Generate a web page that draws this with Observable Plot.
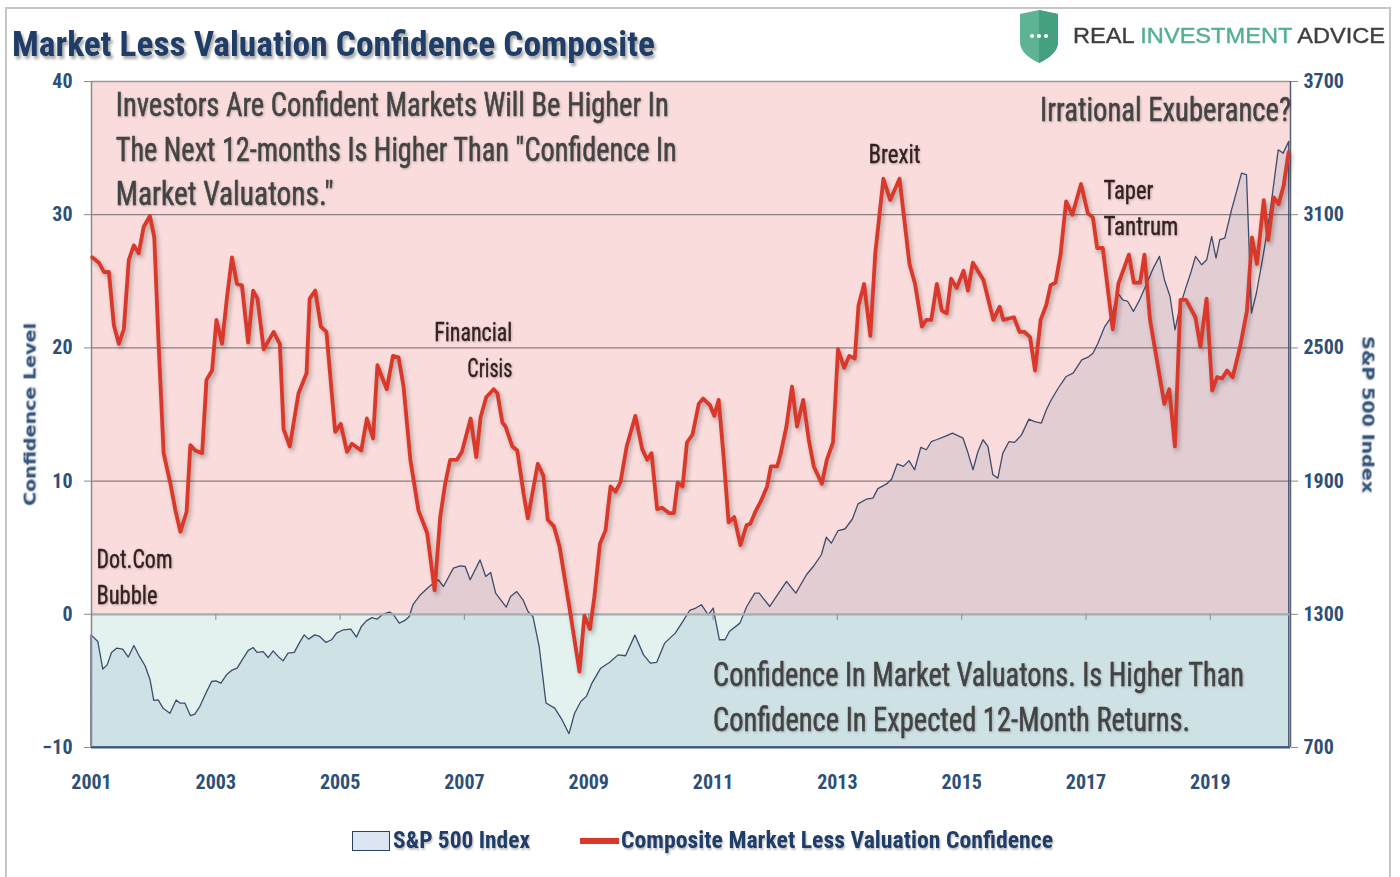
<!DOCTYPE html>
<html>
<head>
<meta charset="utf-8">
<script src="https://cdn.jsdelivr.net/npm/d3@7"></script>
<script src="https://cdn.jsdelivr.net/npm/@observablehq/plot@0.6"></script>
<style>
  html, body { margin: 0; padding: 0; background: #fff; }
  #wrap { position: relative; width: 1400px; height: 877px; overflow: hidden; background: #fff;
    font-family: "Liberation Sans Narrow", "Arial Narrow", "Roboto Condensed", "DejaVu Sans Condensed", sans-serif; }
  #frame { position: absolute; left: 5px; top: 7px; width: 1386px; height: 900px; border: 2px solid #c6c6c6; box-sizing: border-box; pointer-events: none; }
  .fit { position: absolute; white-space: nowrap; transform-origin: left center; }
  #title { left: 12px; top: 27px; font-size: 35px; line-height: 35px; font-weight: bold; color: #1f3d66;
    text-shadow: 2px 3px 3px rgba(0,0,0,0.35); }
  #logoText { left: 1073px; top: 25px; font-family: "Liberation Sans", Arial, sans-serif; font-size: 22px; line-height: 22px;
    color: #3f3f3f; -webkit-text-stroke: 0.4px #3f3f3f; }
  #logoText .g { color: #52b08f; -webkit-text-stroke: 0.4px #52b08f; }
  #chart { position: absolute; left: 0; top: 62px; }
  .leg { font-size: 23px; line-height: 23px; font-weight: bold; color: #1f3d66; top: 829px;
    text-shadow: 1px 2px 2px rgba(0,0,0,0.25); }
  #sw1 { position: absolute; left: 352px; top: 831px; width: 38px; height: 20px; background: #dce6f2; border: 1.5px solid #2f3f5f; box-sizing: border-box; }
  #sw2 { position: absolute; left: 580px; top: 838px; width: 39px; height: 6px; background: #d9382a; }
</style>
</head>
<body>
<div id="wrap">
  <div id="frame"></div>
  <div id="title" class="fit">Market Less Valuation Confidence Composite</div>
  <svg id="shield" width="40" height="54" viewBox="0 0 40 54" style="position:absolute;left:1019px;top:9px">
    <path d="M1 5 L20 1 L39 5 L39 33 Q39 45 20 54 Q1 45 1 33 Z" fill="#5cb494"/>
    <path d="M20 1 L39 5 L39 33 Q39 45 20 54 Z" fill="#45a080"/>
    <circle cx="13" cy="27" r="2.1" fill="#fff"/>
    <circle cx="20" cy="27" r="2.1" fill="#fff"/>
    <circle cx="27" cy="27" r="2.1" fill="#fff"/>
  </svg>
  <div id="logoText" class="fit">REAL <span class="g">INVESTMENT</span> ADVICE</div>
  <div id="chart"></div>
  <div id="sw1"></div>
  <div id="leg1" class="fit leg" style="left:393px">S&amp;P 500 Index</div>
  <div id="sw2"></div>
  <div id="leg2" class="fit leg" style="left:621px">Composite Market Less Valuation Confidence</div>
</div>
<script>
// ---------- DATA ----------
// Composite Market Less Valuation Confidence (left axis), decimal year and value
const compYear = [
  2001.01,2001.12,2001.20,2001.28,2001.36,2001.44,2001.52,2001.60,2001.68,2001.76,2001.84,2001.94,
  2002.01,2002.08,2002.16,2002.27,2002.35,2002.43,2002.53,2002.59,2002.67,2002.78,2002.85,2002.94,
  2003.01,2003.10,2003.18,2003.26,2003.34,2003.42,2003.52,2003.60,2003.67,2003.77,2003.93,
  2004.03,2004.09,2004.19,2004.33,2004.46,2004.51,2004.60,2004.69,2004.78,2004.92,
  2005.01,2005.11,2005.19,2005.34,2005.43,2005.53,2005.60,2005.75,2005.85,2005.94,
  2006.02,2006.13,2006.26,2006.40,2006.52,2006.61,2006.69,2006.77,2006.88,2006.96,
  2007.10,2007.19,2007.26,2007.35,2007.47,2007.53,2007.61,2007.66,2007.77,2007.85,2007.95,
  2008.02,2008.18,2008.27,2008.34,2008.44,2008.53,2008.69,2008.85,2008.93,
  2009.02,2009.09,2009.18,2009.27,2009.35,2009.43,2009.51,2009.61,2009.75,2009.86,2009.94,
  2010.01,2010.10,2010.18,2010.29,2010.37,2010.43,2010.51,2010.58,2010.67,2010.77,2010.84,2010.95,
  2011.02,2011.09,2011.17,2011.25,2011.34,2011.44,2011.54,2011.60,2011.68,2011.76,2011.87,2011.93,
  2012.03,2012.08,2012.18,2012.27,2012.35,2012.45,2012.54,2012.62,2012.75,2012.83,2012.93,
  2013.01,2013.11,2013.19,2013.28,2013.34,2013.43,2013.53,2013.61,2013.74,2013.85,
  2014.00,2014.16,2014.25,2014.36,2014.43,2014.51,2014.60,2014.68,2014.76,2014.83,2014.92,
  2015.03,2015.10,2015.18,2015.35,2015.51,2015.61,2015.67,2015.84,2015.93,
  2016.01,2016.10,2016.18,2016.27,2016.36,2016.43,2016.51,2016.59,2016.68,2016.78,2016.92,
  2017.03,2017.11,2017.18,2017.27,2017.43,2017.52,2017.69,2017.77,2017.87,2017.94,
  2018.03,2018.14,2018.26,2018.34,2018.43,2018.52,2018.61,2018.76,2018.84,2018.94,
  2019.03,2019.11,2019.19,2019.27,2019.36,2019.48,2019.59,2019.67,2019.75,2019.86,2019.93,
  2020.02,2020.10,2020.18,2020.26
];
const compValue = [
  26.8,26.4,25.7,25.7,21.7,20.3,21.4,26.6,27.7,27.1,29.1,29.9,
  28.3,20.3,12.1,9.8,7.8,6.2,7.7,12.7,12.3,12.1,17.6,18.3,
  22.1,20.3,23.8,26.8,24.8,24.7,20.4,24.3,23.7,19.9,21.2,
  20.3,13.9,12.6,16.6,18.1,23.7,24.3,21.6,21.2,13.7,
  14.3,12.2,12.8,12.3,14.7,13.2,18.7,16.9,19.4,19.3,
  17.1,11.6,7.8,6.1,1.8,7.3,9.8,11.6,11.6,12.2,
  14.7,11.8,14.8,16.3,16.9,16.6,14.4,14.1,12.6,12.3,9.1,
  7.2,11.3,10.4,7.1,6.6,5.1,0.5,-4.3,-0.1,
  -1.1,1.3,5.3,6.3,9.6,9.2,9.9,12.6,14.9,12.4,11.6,
  12.1,7.9,8.0,7.6,7.6,9.9,9.6,12.9,13.5,15.8,16.2,15.7,
  14.9,16.1,11.8,6.9,7.3,5.2,6.7,6.8,7.7,8.4,9.6,11.1,
  11.1,11.9,14.1,17.1,14.1,16.1,13.1,11.1,9.8,11.6,12.9,
  19.9,18.5,19.4,19.2,23.2,24.8,20.9,27.1,32.7,31.1,
  32.7,26.3,24.8,21.6,22.1,22.1,24.8,22.8,22.6,25.2,24.5,
  25.8,24.3,26.4,25.1,22.1,23.1,22.1,22.3,21.2,
  21.2,20.8,18.3,22.1,23.2,24.7,24.9,27.0,31.0,30.0,32.3,
  30.1,29.8,27.5,27.5,21.4,24.8,27.0,24.9,24.9,27.0,
  22.1,19.1,15.8,16.9,12.6,23.6,23.6,22.3,20.1,23.7,
  16.8,17.8,17.7,18.3,17.8,20.1,22.8,28.3,26.3,31.1,28.1,
  31.3,30.8,32.2,34.7
];
// S&P 500 Index (right axis), decimal year and index level
const spYear = [
  2001.00,2001.11,2001.19,2001.26,2001.33,2001.41,2001.51,2001.60,2001.69,2001.78,2001.87,2001.95,
  2002.01,2002.08,2002.16,2002.27,2002.37,2002.43,2002.51,2002.60,2002.67,2002.75,2002.85,2002.94,
  2003.01,2003.09,2003.18,2003.26,2003.35,2003.44,2003.53,2003.61,2003.67,2003.77,2003.85,2003.93,
  2004.01,2004.09,2004.17,2004.27,2004.35,2004.43,2004.50,2004.60,2004.68,2004.78,2004.87,2004.95,
  2005.06,2005.18,2005.27,2005.35,2005.43,2005.52,2005.60,2005.70,2005.80,2005.86,2005.96,
  2006.05,2006.12,2006.18,2006.30,2006.43,2006.51,2006.59,2006.67,2006.83,2006.94,
  2007.02,2007.10,2007.26,2007.35,2007.43,2007.51,2007.68,2007.75,2007.85,2007.95,
  2008.03,2008.11,2008.21,2008.32,2008.46,2008.58,2008.69,2008.78,2008.88,2008.97,
  2009.06,2009.20,2009.34,2009.48,2009.60,2009.75,2009.89,
  2010.00,2010.10,2010.23,2010.40,2010.52,2010.63,2010.73,2010.82,2010.93,
  2011.01,2011.11,2011.20,2011.27,2011.44,2011.55,2011.68,2011.75,2011.92,
  2012.19,2012.34,2012.51,2012.62,2012.75,2012.83,2012.91,
  2013.02,2013.13,2013.25,2013.34,2013.48,2013.58,2013.66,2013.80,2013.88,2013.97,
  2014.07,2014.16,2014.25,2014.35,2014.44,2014.52,2014.60,2014.74,2014.86,
  2015.03,2015.11,2015.19,2015.27,2015.35,2015.43,2015.51,2015.59,2015.67,2015.77,2015.86,2015.97,
  2016.09,2016.18,2016.29,2016.37,2016.45,2016.56,2016.69,2016.80,2016.94,
  2017.04,2017.12,2017.20,2017.31,2017.42,2017.52,2017.60,2017.68,2017.77,2017.87,
  2018.01,2018.09,2018.19,2018.27,2018.36,2018.44,2018.52,2018.62,2018.70,2018.77,2018.87,2018.95,
  2019.03,2019.10,2019.16,2019.24,2019.35,2019.43,2019.51,2019.59,2019.67,2019.75,2019.86,2019.96,
  2020.10,2020.18,2020.27
];
const spValue = [
  1205,1175,1051,1070,1126,1145,1141,1105,1157,1108,1066,1003,
  910,912,875,852,912,898,898,841,848,882,943,995,
  998,988,1025,1045,1055,1096,1135,1148,1126,1130,1103,1133,
  1108,1088,1123,1126,1168,1205,1186,1205,1198,1171,1183,1213,
  1228,1231,1195,1243,1268,1283,1276,1299,1308,1299,1258,
  1270,1288,1341,1386,1420,1438,1453,1423,1506,1516,
  1513,1453,1543,1468,1486,1393,1330,1378,1400,1363,
  1310,1288,1153,898,875,822,760,852,905,928,
  988,1055,1081,1115,1111,1204,1115,
  1078,1081,1168,1213,1265,1315,1326,1341,1295,
  1326,1183,1183,1220,1258,1333,1393,1393,1333,
  1446,1393,1476,1513,1566,1645,1618,
  1675,1682,1727,1795,1817,1821,1864,1885,1906,1975,
  1964,1990,1949,2050,2039,2076,2084,2099,2114,
  2091,2024,1949,2031,2084,2054,1926,1911,2024,2076,2072,2106,
  2177,2166,2159,2219,2264,2316,2369,2384,2444,
  2456,2474,2519,2594,2639,2745,2714,2707,2662,2714,
  2805,2857,2910,2805,2729,2579,2684,2774,2842,2910,2872,2895,
  3000,2902,2985,2992,3120,3202,3285,3278,2654,2745,2917,3090,
  3390,3375,3428
];
// Axis ticks
const yearTicks = [2001, 2003, 2005, 2007, 2009, 2011, 2013, 2015, 2017, 2019];
const confTicks = [-10, 0, 10, 20, 30, 40];
const spTickLabels = ["700", "1300", "1900", "2500", "3100", "3700"];
// Annotations: text, anchor year, anchor confidence level
const notesLeft = [
  {text: "Investors Are Confident Markets Will Be Higher In", x: 2001.39, y: 38.2},
  {text: "The Next 12-months Is Higher Than \"Confidence In", x: 2001.39, y: 34.8},
  {text: "Market Valuatons.\"", x: 2001.39, y: 31.5},
  {text: "Confidence In Market Valuatons. Is Higher Than", x: 2011.0, y: -4.58},
  {text: "Confidence In Expected 12-Month Returns.", x: 2011.0, y: -7.96}
];
const notesRight = [
  {text: "Irrational Exuberance?", x: 2020.30, y: 37.8}
];
const eventsLeft = [
  {text: "Brexit", x: 2013.50, y: 34.5},
  {text: "Dot.Com", x: 2001.08, y: 4.05},
  {text: "Bubble", x: 2001.08, y: 1.35},
  {text: "Taper", x: 2017.28, y: 31.8},
  {text: "Tantrum", x: 2017.28, y: 29.05}
];
const eventsRight = [
  {text: "Financial", x: 2007.77, y: 21.1},
  {text: "Crisis", x: 2007.77, y: 18.4}
];

// ---------- CHART ----------
const NARROW = '"Liberation Sans Narrow","Arial Narrow","Roboto Condensed","DejaVu Sans Condensed",sans-serif';
const AXIS_COLOR = "#2d4f78";
const xDomain = [2001, 2020.29];
const yDomain = [-10, 40];
// S&P 500 is drawn against the right axis: 700..3700 maps linearly onto -10..40
const spToConf = v => (v - 1300) / 60;

const comp = compYear.map((x, i) => ({x, y: compValue[i]}));
const sp = spYear.map((x, i) => ({x, y: spToConf(spValue[i])}));

const xLo = () => xDomain[0], xHi = () => xDomain[1];
const yLo = () => yDomain[0], yHi = () => yDomain[1], yZero = () => 0;

const bigText = {fontFamily: NARROW, fontSize: 33, fill: "#434343", stroke: "#434343", strokeWidth: 0.5, lineAnchor: "middle"};
const evText = {fontFamily: NARROW, fontSize: 25, fill: "#33201f", stroke: "#33201f", strokeWidth: 0.35, lineAnchor: "middle"};

const chart = Plot.plot({
  width: 1400,
  height: 743,
  marginTop: 19,
  marginBottom: 58,
  marginLeft: 91,
  marginRight: 110,
  x: {domain: xDomain},
  y: {domain: yDomain},
  style: {background: "transparent", fontFamily: NARROW, overflow: "visible"},
  marks: [
    Plot.rect([0], {x1: xLo, x2: xHi, y1: yZero, y2: yHi, fill: "#f9dcdb"}),
    Plot.rect([0], {x1: xLo, x2: xHi, y1: yLo, y2: yZero, fill: "#e3f2ef"}),
    Plot.ruleY([10, 20, 30], {stroke: "#8c7f7f", strokeWidth: 1.2}),
    Plot.ruleY([yDomain[1]], {stroke: "#9a9a9a", strokeWidth: 1.5}),
    Plot.area(sp, {x1: "x", y1: yLo, y2: "y", fill: "#1f4e96", fillOpacity: 0.1,
      stroke: "#3e4d6c", strokeWidth: 1.3, strokeLinejoin: "round"}),
    Plot.ruleY([0], {stroke: "#a3acae", strokeWidth: 2.2}),
    Plot.ruleX([xDomain[0]], {stroke: "#8a8a8a", strokeWidth: 1.5}),
    Plot.ruleX([xDomain[1]], {stroke: "#5a5f74", strokeWidth: 1.5}),
    Plot.ruleY([yDomain[0]], {stroke: "#3a5878", strokeWidth: 2}),
    Plot.ruleX(yearTicks.slice(1), {y1: yZero, y2: yZero, insetBottom: -6, stroke: "#8a9aa0", strokeWidth: 1.2}),
    Plot.line(comp, {x: "x", y: "y", stroke: "#d9382a", strokeWidth: 3.8, strokeLinejoin: "round", strokeLinecap: "round"}),
    Plot.axisY(confTicks, {anchor: "left", label: null, tickSize: 7, tickPadding: 12, stroke: "#8a8a8a",
      fill: AXIS_COLOR, fontSize: 20, fontWeight: "bold", fontFamily: NARROW}),
    Plot.axisY(confTicks, {anchor: "right", label: null, tickSize: 7, tickPadding: 6, stroke: "#8a8a8a",
      fill: AXIS_COLOR, fontSize: 20, fontWeight: "bold", fontFamily: NARROW,
      tickFormat: d => spTickLabels[confTicks.indexOf(d)]}),
    Plot.axisX(yearTicks, {anchor: "bottom", label: null, tickSize: 0, tickPadding: 27, tickFormat: "d",
      fill: AXIS_COLOR, fontSize: 20, fontWeight: "bold", fontFamily: NARROW}),
    Plot.text(["Confidence Level"], {frameAnchor: "left", textAnchor: "middle", dx: -61, rotate: -90,
      fontFamily: "DejaVu Sans", fontWeight: "bold", fontSize: 15, fill: "#34557d"}),
    Plot.text(["S&P 500 Index"], {frameAnchor: "right", textAnchor: "middle", dx: 77, rotate: 90,
      fontFamily: "DejaVu Sans", fontWeight: "bold", fontSize: 15, fill: "#34557d"}),
    Plot.text(notesLeft, {x: "x", y: "y", text: "text", textAnchor: "start", ...bigText}),
    Plot.text(notesRight, {x: "x", y: "y", text: "text", textAnchor: "end", ...bigText}),
    Plot.text(eventsLeft, {x: "x", y: "y", text: "text", textAnchor: "start", ...evText}),
    Plot.text(eventsRight, {x: "x", y: "y", text: "text", textAnchor: "end", ...evText})
  ]
});
document.getElementById("chart").appendChild(chart);

// drop shadows like the original
const svg = d3.select(chart);
svg.selectAll('g[aria-label="line"] path').style("filter", "drop-shadow(2px 3px 2px rgba(0,0,0,0.28))");
svg.selectAll('g[aria-label="text"] text').style("filter", "drop-shadow(1px 1px 1px rgba(0,0,0,0.22))");

// width fitting to mimic the original condensed typeface
const textWidths = {
  "Investors Are Confident Markets Will Be Higher In": 553,
  "The Next 12-months Is Higher Than \"Confidence In": 561,
  "Market Valuatons.\"": 218,
  "Irrational Exuberance?": 251,
  "Brexit": 52, "Financial": 78, "Crisis": 45, "Dot.Com": 76, "Bubble": 61,
  "Taper": 50, "Tantrum": 75,
  "Confidence In Market Valuatons. Is Higher Than": 531,
  "Confidence In Expected 12-Month Returns.": 477,
  "Confidence Level": 183, "S&P 500 Index": 157
};
svg.selectAll("text").each(function() {
  const w = textWidths[this.textContent];
  if (w) { this.setAttribute("textLength", w); this.setAttribute("lengthAdjust", "spacingAndGlyphs"); }
});
function fit(id, w) {
  const el = document.getElementById(id);
  const r = el.getBoundingClientRect().width;
  el.style.transform = `scaleX(${w / r})`;
}
fit("title", 643);
fit("logoText", 312);
fit("leg1", 137);
fit("leg2", 432);
</script>
</body>
</html>
